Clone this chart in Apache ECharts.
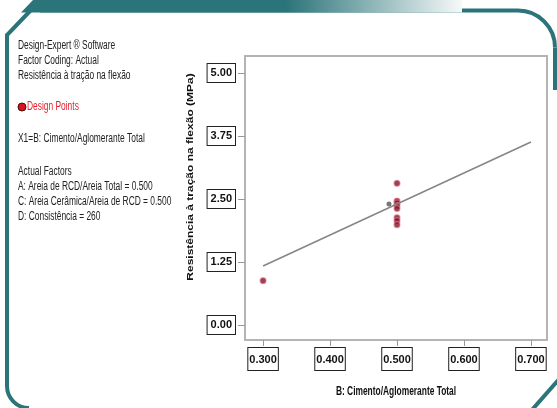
<!DOCTYPE html>
<html>
<head>
<meta charset="utf-8">
<script src="https://cdn.jsdelivr.net/npm/echarts@6/dist/echarts.min.js"></script>
<style>
  html, body { margin: 0; padding: 0; background: #fff; }
  #chart { width: 557px; height: 408px; }
</style>
</head>
<body>
<div id="chart"></div>
<script>
// design points
const designX = [0.3, 0.5, 0.5, 0.5, 0.5, 0.5, 0.5, 0.5, 0.5];
const designY = [0.88, 2.81, 2.46, 2.42, 2.37, 2.31, 2.13, 2.07, 1.99];
// fitted line (one factor plot)
const fitX = [0.3, 0.7];
const fitY = [1.17, 3.63];
// small grey marker near the centre point
const markX = [0.488];
const markY = [2.40];
const xTicks = [0.3, 0.4, 0.5, 0.6, 0.7];
const yTicks = [0, 1.25, 2.5, 3.75, 5];

const headLines = ['Design-Expert ® Software', 'Factor Coding: Actual', 'Resistência à tração na flexão'];
const legendName = 'Design Points';
const factorLine = 'X1=B: Cimento/Aglomerante Total';
const actualLines = ['Actual Factors', 'A: Areia de RCD/Areia Total = 0.500',
  'C: Areia Cerâmica/Areia de RCD = 0.500', 'D: Consistência = 260'];
const xName = 'B: Cimento/Aglomerante Total';
const yName = 'Resistência à tração na flexão (MPa)';

const sans = "'Liberation Sans', Arial, sans-serif";
const teal = '#2b7479';
const squeeze = 0.7; // the original picture is squashed sideways

const chart = echarts.init(document.getElementById('chart'));

// left info block, one text per line
function infoText (txt, y, color) {
  return {
    type: 'text', x: 18, y: y, scaleX: squeeze, silent: true,
    style: { text: txt, font: '12px ' + sans, fill: color || '#222', verticalAlign: 'middle' }
  }
}
const infoEls = []
headLines.forEach((t, i) => infoEls.push(infoText(t, 46 + i * 15)))
infoEls.push(infoText(factorLine, 139))
actualLines.forEach((t, i) => infoEls.push(infoText(t, 172 + i * 15)))
infoEls.push({
  type: 'text', x: 27, y: 107, scaleX: squeeze, silent: true,
  style: { text: legendName, font: '12px ' + sans, fill: '#e8202e', verticalAlign: 'middle' }
})
infoEls.push({
  type: 'circle', silent: true, shape: { cx: 22, cy: 107, r: 4 },
  style: { fill: '#d8141e', stroke: '#4a0a0a', lineWidth: 1 }
})

// teal slide frame
const frameLine = { stroke: teal, lineWidth: 4, fill: null }
const frameEls = [
  { type: 'polyline', silent: true, z: 5, shape: { points: [[40, 10.5], [518, 10.5]] }, style: frameLine },
  { type: 'arc', silent: true, z: 5, shape: { cx: 518, cy: 47.5, r: 37, startAngle: -Math.PI / 2, endAngle: 0, clockwise: true }, style: frameLine },
  { type: 'polyline', silent: true, z: 5, shape: { points: [[555, 47.5], [555, 90]] }, style: frameLine },
  {
    type: 'polygon', silent: true, z: 6,
    shape: { points: [[33, 0], [462, 0], [462, 12.5], [21, 12.5]] },
    style: {
      fill: {
        type: 'linear', x: 0, y: 0, x2: 1, y2: 0,
        colorStops: [
          { offset: 0, color: teal },
          { offset: 0.6, color: teal },
          { offset: 1, color: '#f6f9f9' }
        ]
      }
    }
  },
  { type: 'polyline', silent: true, z: 5, shape: { points: [[31, 10], [7, 35], [7, 386]] }, style: frameLine },
  { type: 'arc', silent: true, z: 5, shape: { cx: 29, cy: 386, r: 22, startAngle: Math.PI / 2, endAngle: Math.PI, clockwise: true }, style: frameLine },
  { type: 'polyline', silent: true, z: 5, shape: { points: [[531, 411], [561, 377]] }, style: frameLine }
]

const boxLabel = {
  fontFamily: sans,
  fontWeight: 'bold',
  fontSize: 11,
  color: '#111',
  backgroundColor: '#fff',
  borderColor: '#222',
  borderWidth: 1
};

const option = {
  animation: false,
  backgroundColor: '#fff',
  grid: {
    left: 245, right: 10, top: 56, bottom: 68,
    show: true, borderColor: '#b4b4b4', borderWidth: 2
  },
  xAxis: {
    type: 'value', min: 0.273, max: 0.724,
    axisLine: { show: false, onZero: false },
    splitLine: { show: false },
    axisTick: { show: true, length: 6, customValues: xTicks, lineStyle: { color: '#999' } },
    axisLabel: Object.assign({}, boxLabel, {
      customValues: xTicks, margin: 8, padding: [6, 1, 5, 1],
      formatter: v => v.toFixed(3)
    })
  },
  yAxis: {
    type: 'value', min: -0.298, max: 5.337,
    axisLine: { show: false, onZero: false },
    splitLine: { show: false },
    axisTick: { show: true, length: 7, customValues: yTicks, lineStyle: { color: '#999' } },
    axisLabel: Object.assign({}, boxLabel, {
      customValues: yTicks, margin: 10, padding: [4, 3, 3, 3],
      formatter: v => v.toFixed(2)
    })
  },
  series: [
    {
      name: 'fit', type: 'line', symbol: 'none', silent: true,
      data: fitX.map((x, i) => [x, fitY[i]]),
      lineStyle: { color: '#858585', width: 1.5 }
    },
    {
      name: 'mark', type: 'scatter', symbolSize: 5, silent: true,
      data: markX.map((x, i) => [x, markY[i]]),
      itemStyle: { color: '#555' }
    },
    {
      name: legendName, type: 'scatter', symbolSize: 6,
      data: designX.map((x, i) => [x, designY[i]]),
      itemStyle: { color: '#7c1627', borderColor: 'rgba(235,120,145,0.75)', borderWidth: 1.2 }
    }
  ],
  graphic: {
    elements: infoEls.concat(frameEls, [
      {
        type: 'text', x: 396, y: 392, scaleX: squeeze, silent: true,
        style: { text: xName, font: 'bold 12px ' + sans, fill: '#111', align: 'center', verticalAlign: 'middle' }
      },
      {
        type: 'text', x: 191, y: 177, rotation: Math.PI / 2, scaleY: squeeze, silent: true,
        style: { text: yName, font: 'bold 12px ' + sans, fill: '#111', align: 'center', verticalAlign: 'middle' }
      }
    ])
  }
};

chart.setOption(option);
</script>
</body>
</html>
